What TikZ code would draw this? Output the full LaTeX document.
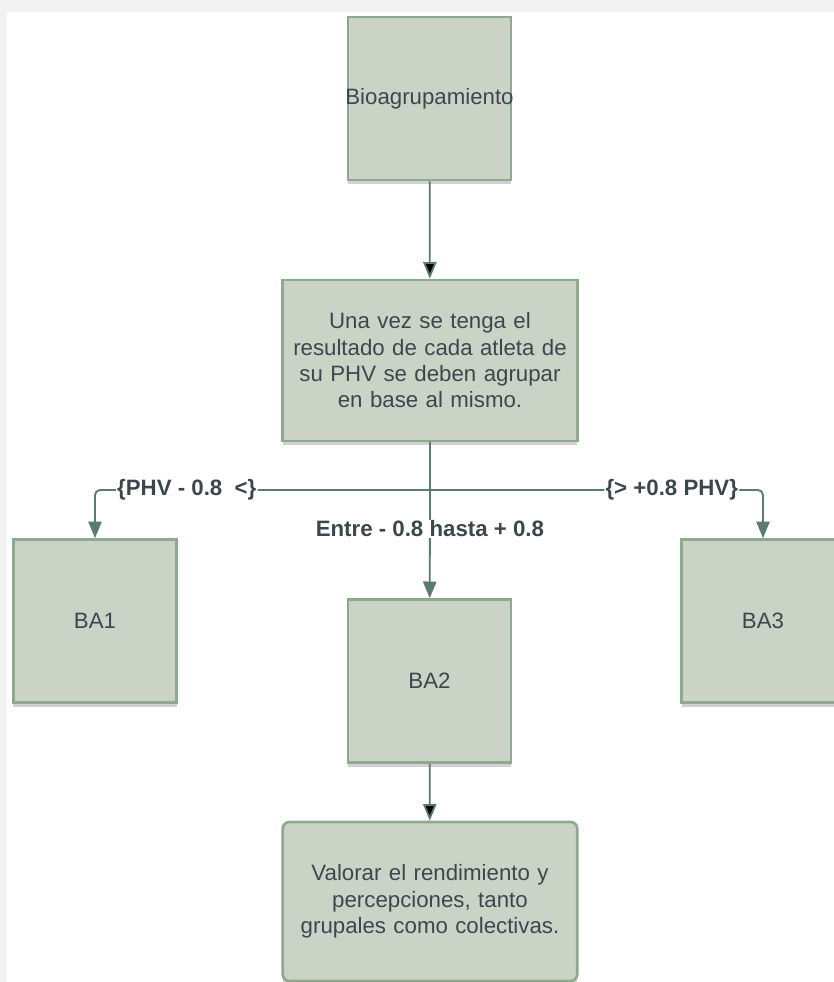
\documentclass[tikz,border=0pt]{standalone}
\usepackage{fontspec}
\setmainfont{Liberation Sans}
\usetikzlibrary{arrows.meta, shadows}
\definecolor{boxfill}{HTML}{CBD3C7}
\definecolor{boxline}{HTML}{8DAA8F}
\definecolor{wire}{HTML}{5B7B70}
\definecolor{ink}{HTML}{3C474D}
\definecolor{page}{HTML}{F2F2F2}
\tikzset{
	every node/.style={text=ink,font=\fontsize{19}{22.5}\selectfont},
	box/.style={shape=rectangle,draw=boxline,line width=0.8mm,fill=boxfill,align=center,
		drop shadow={shadow xshift=0mm,shadow yshift=-1.2mm,opacity=0.18,fill=black}},
	square-box/.style={box,minimum width=48.9mm,minimum height=48.9mm},
	wide-box/.style={box,minimum width=88.2mm,minimum height=48.3mm,text width=86mm},
	cond/.style={fill=white,inner sep=1pt,font=\bfseries\fontsize{19}{22.5}\selectfont},
}
\tikzstyle{arrow} = [line width=0.55mm,draw=wire,-{Triangle[length=5mm,width=4mm]}]
\tikzstyle{wireline} = [line width=0.55mm,draw=wire]

\begin{document}
\begin{tikzpicture}[x=0.3mm,y=-0.3mm]
						\useasboundingbox (0,0) rectangle (834,982);
						\fill[page] (0,0) rectangle (834,982);
						\fill[white] (7,12) rectangle (834,982);
						\clip (0,0) rectangle (834,982);

						\node[square-box] (bio) at (429.5,98.5) {\makebox[40mm]{Bioagrupamiento}};
						\node[wide-box] (phv) at (430,360.5) {Una vez se tenga el\\resultado de cada atleta de\\su PHV se deben agrupar\\en base al mismo.};
						\node[square-box] (ba1) at (95,621) {BA1};
						\node[square-box] (ba2) at (429.5,681) {BA2};
						\node[square-box] (ba3) at (763,621) {BA3};
						\node[wide-box,rounded corners=2mm,minimum height=47.7mm] (val) at (430,901.5) {Valorar el rendimiento y\\percepciones, tanto\\grupales como colectivas.};
						\coordinate (split) at (430,490);

						\path [arrow] (bio) edge (phv);
						\path [wireline] (phv) edge (split);
						\draw [arrow,rounded corners=1.5mm] (split) -| node[cond,pos=0.363] {\{PHV - 0.8 \ <\}} (ba1);
						\draw [arrow,rounded corners=1.5mm] (split) -| node[cond,pos=0.363] {\{> +0.8 PHV\}} (ba3);
						\draw [arrow] (split) -- node[cond,pos=0.36] {Entre - 0.8 hasta + 0.8} (ba2);
						\path [arrow] (ba2) edge (val);
					\end{tikzpicture}
\end{document}
